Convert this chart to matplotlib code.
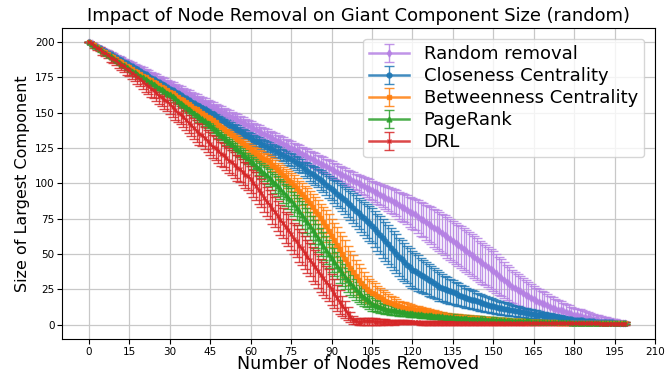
import matplotlib
matplotlib.use("Agg")
import matplotlib.pyplot as plt
import numpy as np

nodes_removed = list(range(200))

random_mean = [
200,199,198,197,196,195,194,193,192,191,190,189,188,187,186,185,184,183,182,181,
180,179,178,177,176,175,174,173,172,171,170,169,168,167,166,165,164,163,162,161,
160,159,158,157,156,155,154,153,152,151,150,149,148,147,146,145,144,143,142,141,
140,139,138,137,136,135,134,133,132,131,130,129,128,127,126,125,124,123,122,121,
120,119,118,117,116,115,114,113,112,111,110,109,108,107,106,105,104,103,102,101,
100,99,98,97,96,95,94,93,92,91,90,
89,88,87,86,84.5,83.5,82.5,81.5,80,79,
78,76.5,75,74,72.5,71,70,68.5,67.5,66,
64.6,63.2,61.8,60.4,59,57.6,56.2,54.8,53.4,52,
50.6,49.2,47.8,46.4,45,43.6,42.2,40.8,39.4,38,
36.4,34.8,33.2,31.6,30,28.5,27,
25.9,24.8,23.6,22.5,21.4,20.2,19.1,18,
17.1,16.3,15.4,14.6,13.7,12.9,12,
11.4,10.7,10.1,9.5,8.9,8.2,7.6,7,
6.6,6.2,5.8,5.4,5,
4.6,4.2,3.8,3.4,3,
2.8,2.6,2.3,2.1,1.9,1.7,1.4,1.2,1.0]
random_err = [
0,0.1,0.2,0.3,0.4,0.5,0.6,0.7,0.8,0.9,1.0,1.1,1.2,1.3,1.4,1.5,1.6,1.7,1.8,1.9,
2.0,2.05,2.1,2.15,2.2,2.25,2.3,2.35,2.4,2.45,2.5,2.55,2.6,2.65,2.7,2.75,2.8,2.85,2.9,2.95,
3.0,3.05,3.1,3.15,3.2,3.25,3.3,3.35,3.4,3.45,3.5,3.55,3.6,3.65,3.7,3.75,3.8,3.85,3.9,3.95,
4.0,4.05,4.1,4.15,4.2,4.25,4.3,4.35,4.4,4.45,4.5,4.55,4.6,4.65,4.7,4.75,4.8,4.85,4.9,4.95,
5.0,5.05,5.1,5.15,5.2,5.25,5.3,5.35,5.4,5.45,5.5,5.55,5.6,5.65,5.7,5.75,5.8,5.85,5.9,5.95,
6.0,6.2,6.4,6.6,6.8,7.0,7.2,7.4,7.6,7.8,8.0,8.3,8.6,8.9,9.2,9.5,9.8,10.1,10.4,10.7,
11.0,11.3,11.6,11.9,12.2,12.5,12.8,13.1,13.4,13.7,14.0,14.1,14.2,14.3,14.4,14.5,14.6,14.7,14.8,14.9,
15.0,15.0,14.9,14.8,14.7,14.6,14.5,14.4,14.3,14.2,14.0,13.7,13.4,13.1,12.8,12.5,12.2,11.9,11.6,11.3,
11.0,10.7,10.4,10.1,9.8,9.5,9.2,8.9,8.6,8.3,8.0,7.7,7.4,7.1,6.8,6.5,6.2,5.9,5.6,5.3,
5.0,4.8,4.6,4.4,4.2,4.0,3.8,3.6,3.4,3.2,3.0,2.8,2.6,2.4,2.2,2.0,1.8,1.5,1.2,1.0]

closeness_mean = [
200,198.9,197.9,196.8,195.7,194.7,193.6,192.5,191.5,190.4,189.3,188.3,187.2,186.1,185.1,
184,182.9,181.7,180.6,179.5,178.3,177.2,176.1,174.9,173.8,172.7,171.5,170.4,169.3,168.1,
167,165.9,164.7,163.6,162.5,161.3,160.2,159.1,157.9,156.8,155.7,154.5,153.4,152.3,151.1,
150,148.8,147.6,146.4,145.2,144,142.8,141.6,140.4,139.2,138,136.8,135.6,134.4,133.2,
132,131,130,129,128,127,126,125,124,123,122,121,120,119,118,
117,115.8,114.6,113.4,112.2,
110,108.8,107.6,106.4,105.2,
104,102.4,100.8,99.2,97.6,
96,94.4,92.8,91.2,89.6,
88,86.2,84.4,82.6,80.8,
79,77.2,75.4,73.6,71.8,
70,67.8,65.6,63.4,61.2,
59,56.8,54.6,52.4,50.2,
48,46.2,44.4,42.6,40.8,
39,37.8,36.6,35.4,34.2,
33,31.8,30.6,29.4,28.2,
27,26.2,25.4,24.6,23.8,23,22.2,21.4,20.6,19.8,
19,18.4,17.8,17.2,16.6,16,15.4,14.8,14.2,13.6,
13,12.6,12.2,11.8,11.4,11,10.6,10.2,9.8,9.4,
9,8.7,8.4,8.1,7.8,7.5,7.2,6.9,6.6,6.3,
6,5.75,5.5,5.25,5,4.75,4.5,4.25,4,3.75,
3.5,3.35,3.2,3.05,2.9,2.75,2.6,2.45,2.3,2.15,
2,1.9,1.8,1.7,1.6,1.5,1.4,1.3,1.2,1.1]
closeness_err = [
0,0.1,0.2,0.3,0.4,0.5,0.6,0.65,0.7,0.75,0.8,0.85,0.9,0.95,1.0,1.05,1.1,1.15,1.2,1.25,
1.3,1.35,1.4,1.45,1.5,1.55,1.6,1.65,1.7,1.75,1.8,1.85,1.9,1.95,2.0,2.05,2.1,2.15,2.2,2.25,
2.3,2.35,2.4,2.45,2.5,2.55,2.6,2.65,2.7,2.75,2.8,2.85,2.9,2.95,3.0,3.05,3.1,3.15,3.2,3.25,
3.3,3.4,3.5,3.6,3.7,3.8,3.9,4.0,4.1,4.2,4.3,4.4,4.5,4.6,4.7,4.8,4.9,5.0,5.0,5.0,
5.0,5.3,5.6,5.9,6.2,6.5,6.8,7.1,7.4,7.7,8.0,8.3,8.6,8.9,9.2,9.5,9.8,10.1,10.4,10.7,
11.0,11.3,11.6,11.9,12.2,12.5,12.8,13.1,13.4,13.7,14.0,14.0,14.0,13.9,13.8,13.7,13.6,13.5,13.3,13.2,
13.0,12.7,12.4,12.1,11.8,11.5,11.2,10.9,10.6,10.3,10.0,9.7,9.4,9.1,8.8,8.5,8.2,7.9,7.6,7.3,
7.0,6.8,6.6,6.4,6.2,6.0,5.8,5.6,5.4,5.2,5.0,4.85,4.7,4.55,4.4,4.25,4.1,3.95,3.8,3.65,
3.5,3.4,3.3,3.2,3.1,3.0,2.9,2.8,2.7,2.6,2.5,2.4,2.3,2.2,2.1,2.0,1.9,1.8,1.7,1.6,
1.5,1.45,1.4,1.35,1.3,1.25,1.2,1.15,1.1,1.05,1.0,0.95,0.9,0.85,0.8,0.75,0.7,0.65,0.6,0.5]

betweenness_mean = [
200,198.8,197.6,196.4,195.2,194,192.8,191.6,190.4,189.2,188,186.8,185.6,184.4,183.2,
182,180.9,179.7,178.6,177.5,176.3,175.2,174.1,172.9,171.8,170.7,169.5,168.4,167.3,166.1,
165,163.7,162.5,161.2,159.9,158.7,157.4,156.1,154.9,153.6,152.3,151.1,149.8,148.5,147.3,
146,144.5,143.1,141.6,140.1,138.7,137.2,135.7,134.3,132.8,131.3,129.9,128.4,126.9,125.5,
124,122.7,121.4,120.1,118.9,117.6,116.3,
115,113.25,111.5,109.75,108,106.25,104.5,102.75,
101,98.9,96.7,94.6,92.4,90.3,88.1,
86,83.3,80.7,78,75.3,72.7,
70,66.5,
63,59.8,56.5,53.3,
50,46.7,43.3,
40,37.3,34.7,
32,29.7,27.3,
25,23.9,22.7,21.6,20.4,19.3,18.1,
17,16.2,15.4,14.6,13.8,
13,12.6,12.2,11.8,11.4,11,10.6,10.2,9.8,9.4,
9,8.7,8.3,8,7.7,7.3,7,6.7,6.3,
6,5.8,5.7,5.5,5.4,5.2,5.1,4.9,4.8,4.6,4.5,4.3,4.2,4,3.8,3.7,
3.5,3.4,3.3,3.2,3.1,3,2.9,2.8,2.7,2.6,2.5,2.4,2.3,2.2,2.1,
2,1.95,1.9,1.85,1.8,1.75,1.7,1.65,1.6,1.55,1.5,1.45,1.4,1.35,1.33,
1.3,1.28,1.27,1.25,1.24,1.22,1.2,1.19,1.17,1.16,1.14,1.13,1.11,1.1,1.08,1.07,1.05,1.03,1.02,1.0]
betweenness_err = [
0,0.1,0.2,0.3,0.35,0.4,0.45,0.5,0.55,0.6,0.65,0.7,0.75,0.8,0.85,0.9,0.95,1.0,1.05,1.1,
1.15,1.2,1.25,1.3,1.35,1.4,1.45,1.5,1.55,1.6,1.65,1.7,1.75,1.8,1.85,1.9,1.95,2.0,2.05,2.1,
2.15,2.2,2.25,2.3,2.35,2.4,2.45,2.5,2.55,2.6,2.65,2.7,2.75,2.8,2.85,2.9,2.95,3.0,3.0,3.0,
3.0,3.2,3.4,3.6,3.8,4.0,4.2,4.4,4.6,4.8,5.0,5.3,5.6,5.9,6.2,6.5,6.8,7.1,7.4,7.7,
8.0,8.4,8.8,9.2,9.6,10.0,10.4,10.8,11.2,11.6,12.0,12.2,12.4,12.6,12.8,13.0,12.6,12.2,11.8,11.4,
11.0,10.4,9.8,9.2,8.6,8.0,7.6,7.2,6.8,6.4,6.0,5.6,5.2,4.8,4.4,4.0,3.8,3.6,3.4,3.2,
3.0,2.9,2.8,2.7,2.6,2.5,2.4,2.3,2.2,2.1,2.0,1.98,1.95,1.93,1.9,1.88,1.85,1.83,1.8,1.78,
1.75,1.73,1.7,1.68,1.65,1.63,1.6,1.58,1.55,1.53,1.5,1.48,1.46,1.44,1.42,1.4,1.38,1.36,1.34,1.32,
1.3,1.28,1.26,1.24,1.22,1.2,1.18,1.16,1.14,1.12,1.1,1.08,1.06,1.04,1.02,1.0,0.98,0.96,0.94,0.92,
0.9,0.9,0.89,0.88,0.87,0.86,0.85,0.85,0.84,0.83,0.82,0.82,0.81,0.8,0.8,0.8,0.8,0.8,0.8,0.8]

pagerank_mean = [
200,198.7,197.5,196.2,194.9,193.7,192.4,191.1,189.9,188.6,187.3,186.1,184.8,183.5,182.3,
181,179.8,178.6,177.4,176.2,175,173.8,172.6,171.4,170.2,169,167.8,166.6,165.4,164.2,
163,161.5,160.1,158.6,157.1,155.7,154.2,152.7,151.3,149.8,148.3,146.9,145.4,143.9,142.5,
141,139.3,137.7,136,134.3,132.7,131,129.3,127.7,126,124.3,122.7,121,119.3,117.7,
116,114.3,112.6,110.9,109.1,107.4,105.7,
104,102,100,98,96,94,92,90,
88,85.4,82.9,80.3,77.7,75.1,72.6,
70,67.1,64.3,61.4,58.5,55.6,52.8,49.9,
47,44.4,41.8,39.2,36.6,
34,31.8,29.6,27.4,25.2,
23,21.4,19.8,18.2,16.6,
15,14.2,13.4,12.6,11.8,
11,10.7,10.4,10.1,9.8,9.5,9.2,8.9,8.6,8.3,
8,7.8,7.6,7.4,7.2,7,6.8,6.6,6.4,6.2,
6,5.85,5.7,5.55,5.4,5.25,5.1,4.95,4.8,4.65,
4.5,4.4,4.3,4.2,4.1,4,3.9,3.8,3.7,3.6,3.5,3.4,3.3,3.2,3.1,3,2.9,2.8,2.7,2.6,
2.5,2.45,2.4,2.35,2.3,2.25,2.2,2.15,2.1,2.05,2,1.95,1.9,1.85,1.8,1.75,1.7,1.65,1.6,1.55,
1.5,1.47,1.45,1.42,1.4,1.37,1.35,1.32,1.3,1.27,1.25,1.22,1.2,1.17,1.15,1.12,1.1,1.07,1.05,1.0]
pagerank_err = [
0,0.1,0.2,0.3,0.4,0.45,0.5,0.55,0.6,0.65,0.7,0.75,0.8,0.85,0.9,0.95,1.0,1.05,1.1,1.15,
1.2,1.3,1.4,1.5,1.6,1.7,1.8,1.9,2.0,2.1,2.2,2.3,2.4,2.5,2.6,2.7,2.8,2.9,3.0,3.1,
3.2,3.25,3.3,3.35,3.4,3.45,3.5,3.55,3.6,3.65,3.7,3.75,3.8,3.85,3.9,3.95,4.0,4.0,4.0,4.0,
4.0,4.3,4.6,4.9,5.2,5.5,5.8,6.1,6.4,6.7,7.0,7.3,7.6,7.9,8.2,8.5,8.8,9.1,9.4,9.7,
10.0,10.0,10.0,10.0,10.0,10.0,10.0,10.0,10.0,10.0,10.0,9.8,9.6,9.4,9.2,9.0,8.6,8.2,7.8,7.4,
7.0,6.6,6.2,5.8,5.4,5.0,4.7,4.4,4.1,3.8,3.5,3.4,3.3,3.2,3.1,3.0,2.9,2.8,2.7,2.6,
2.5,2.48,2.45,2.43,2.4,2.38,2.35,2.33,2.3,2.28,2.25,2.23,2.2,2.18,2.15,2.13,2.1,2.08,2.05,2.03,
2.0,1.97,1.94,1.91,1.88,1.85,1.82,1.79,1.76,1.73,1.7,1.67,1.64,1.61,1.58,1.55,1.52,1.49,1.46,1.43,
1.4,1.38,1.36,1.34,1.32,1.3,1.28,1.26,1.24,1.22,1.2,1.18,1.16,1.14,1.12,1.1,1.08,1.06,1.04,1.02,
1.0,0.99,0.98,0.97,0.96,0.95,0.94,0.93,0.92,0.91,0.9,0.89,0.88,0.87,0.86,0.85,0.84,0.83,0.82,0.8]

drl_mean = [
200,199,197,196,195,193,192,191,189,188,187,185,184,183,181,180,178,177,175,174,
172,170,169,167,166,164,162,161,159,158,156,154,152,150,149,147,145,143,141,139,
137,135,134,132,130,128,126,125,123,121,120,118,116,115,113,111,110,108,106,105,
103,100,98,95,93,90,87,85,82,80,77,74,72,69,67,64,61,59,56,54,
51,48,46,43,41,38,35,33,30,28,25,22,19,16,13.5,11,8,5.5,3.5,2.5,
1.8,2.2,2.5,2.6,2.5,2.4,2.3,2.2,2.1,2.0,2.0,1.9,1.9,1.8,1.8,1.8,1.7,1.7,1.7,1.6,
1.6,1.6,1.6,1.5,1.5,1.5,1.5,1.5,1.4,1.4,1.4,1.4,1.4,1.3,1.3,1.3,1.3,1.3,1.3,1.2,
1.2,1.2,1.2,1.2,1.2,1.2,1.2,1.15,1.15,1.15,1.15,1.15,1.15,1.1,1.1,1.1,1.1,1.1,1.1,1.1,
1.1,1.05,1.05,1.05,1.05,1.05,1.05,1.0,1.0,1.0,1.0,1.0,1.0,1.0,1.0,0.95,0.95,0.95,0.95,0.95,
0.95,0.95,0.9,0.9,0.9,0.9,0.9,0.9,0.9,0.9,0.85,0.85,0.85,0.85,0.85,0.85,0.8,0.8,0.8,0.8]
drl_err = [
0,0.5,0.9,1.3,1.6,1.9,2.2,2.5,2.8,3.0,3.3,3.5,3.7,3.9,4.1,4.3,4.5,4.7,4.9,5.1,
5.2,5.4,5.5,5.7,5.8,6.0,6.1,6.2,6.4,6.5,6.6,6.7,6.8,6.9,7.0,7.1,7.2,7.3,7.4,7.5,
7.6,7.7,7.8,7.9,8.0,8.1,8.2,8.3,8.4,8.5,8.6,8.7,8.8,8.9,9.0,9.1,9.2,9.3,9.4,9.5,
9.6,9.7,9.8,9.9,10.0,10.1,10.2,10.3,10.4,10.5,10.6,10.7,10.8,10.9,11.0,11.1,11.2,11.3,11.4,11.5,
11.6,11.7,11.8,11.8,11.9,11.9,11.8,11.6,11.4,11.1,10.7,10.1,9.3,8.3,7.1,5.9,4.7,3.6,2.8,2.3,
2.0,2.3,2.5,2.5,2.4,2.3,2.2,2.1,2.0,1.9,1.8,1.8,1.7,1.7,1.6,1.6,1.5,1.5,1.5,1.4,
1.4,1.4,1.4,1.4,1.35,1.35,1.35,1.35,1.3,1.3,1.3,1.3,1.3,1.25,1.25,1.25,1.25,1.2,1.2,1.2,
1.2,1.2,1.15,1.15,1.15,1.15,1.1,1.1,1.1,1.1,1.1,1.05,1.05,1.05,1.05,1.0,1.0,1.0,1.0,1.0,
1.0,1.0,0.95,0.95,0.95,0.95,0.95,0.9,0.9,0.9,0.9,0.9,0.9,0.85,0.85,0.85,0.85,0.85,0.85,0.85,
0.8,0.8,0.8,0.8,0.8,0.8,0.8,0.8,0.8,0.8,0.8,0.8,0.8,0.8,0.8,0.8,0.8,0.8,0.8,0.8]

labels = ["Random removal", "Closeness Centrality", "Betweenness Centrality", "PageRank", "DRL"]
colors = ["#b581e3", "#1f77b4", "#ff7f0e", "#2ca02c", "#d62728"]
markers = ["d", "o", "s", "^", "x"]
x_ticks = [0, 15, 30, 45, 60, 75, 90, 105, 120, 135, 150, 165, 180, 195, 210]
y_ticks = [0, 25, 50, 75, 100, 125, 150, 175, 200]

series = [(random_mean, random_err), (closeness_mean, closeness_err),
          (betweenness_mean, betweenness_err), (pagerank_mean, pagerank_err),
          (drl_mean, drl_err)]

fig = plt.figure(figsize=(6.67, 3.72), dpi=100)
ax = fig.add_axes([0.093, 0.089, 0.889, 0.836])

for (m, e), lab, c, mk in zip(series, labels, colors, markers):
    ax.errorbar(nodes_removed, m, yerr=e, label=lab, color=c, marker=mk,
                markersize=3.5, linewidth=1.8, elinewidth=1, capsize=3.5,
                capthick=1, alpha=0.85)

ax.set_xlim(-10, 210)
ax.set_ylim(-10, 210)
ax.set_xticks(x_ticks)
ax.set_yticks(y_ticks)
ax.tick_params(labelsize=7.5, pad=2)
ax.grid(True, color="#c8c8c8", linewidth=0.9)
ax.set_axisbelow(True)
ax.set_title("Impact of Node Removal on Giant Component Size (random)", fontsize=12.9, pad=5)
ax.set_xlabel("Number of Nodes Removed", fontsize=12.6, labelpad=-1)
ax.set_ylabel("Size of Largest Component", fontsize=11.5, labelpad=3)
ax.legend(loc="upper right", fontsize=13, handlelength=2.2, labelspacing=0.22,
          borderpad=0.35, handletextpad=0.8, borderaxespad=0.6)

fig.savefig("out.png", dpi=100)
